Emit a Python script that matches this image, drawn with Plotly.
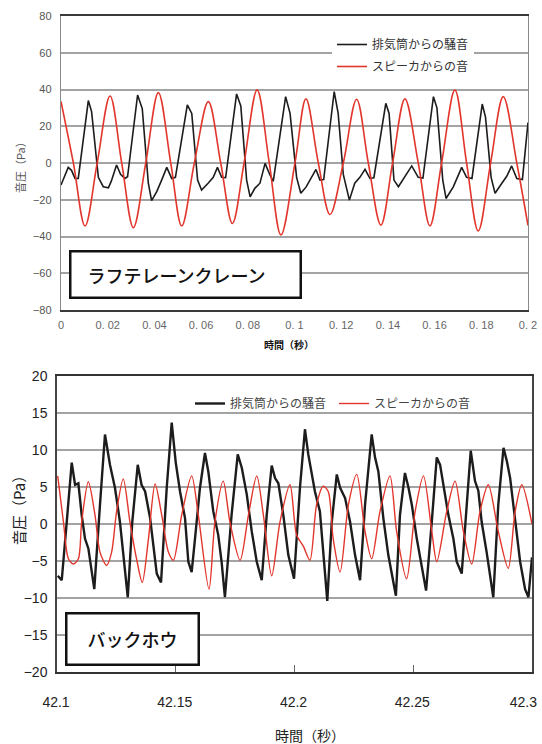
import plotly.graph_objects as go

W, H = 542, 744
JP = "Noto Sans CJK JP"

# ---------------- Top panel: ラフテレーンクレーン (time s, pressure Pa) ----------------
top_t_exhaust = [0.0000, 0.0031, 0.0045, 0.0060, 0.0074, 0.0117, 0.0131, 0.0160, 0.0181, 0.0203,
                 0.0215, 0.0238, 0.0255, 0.0274, 0.0285, 0.0328, 0.0348, 0.0374, 0.0388, 0.0410,
                 0.0431, 0.0453, 0.0474, 0.0490, 0.0541, 0.0560, 0.0585, 0.0602, 0.0630, 0.0652,
                 0.0670, 0.0688, 0.0705, 0.0752, 0.0770, 0.0795, 0.0810, 0.0830, 0.0852, 0.0874,
                 0.0895, 0.0909, 0.0962, 0.0981, 0.1009, 0.1027, 0.1050, 0.1073, 0.1092, 0.1109,
                 0.1125, 0.1170, 0.1187, 0.1209, 0.1235, 0.1258, 0.1280, 0.1302, 0.1323, 0.1340,
                 0.1391, 0.1405, 0.1426, 0.1445, 0.1473, 0.1502, 0.1530, 0.1550, 0.1595, 0.1610,
                 0.1635, 0.1649, 0.1680, 0.1716, 0.1737, 0.1760, 0.1804, 0.1818, 0.1842, 0.1859,
                 0.1888, 0.1909, 0.1930, 0.1952, 0.1976, 0.2000]
top_p_exhaust = [-12, -2.4, -4, -8.4, -8.4, 34, 28, -7.8, -12.9, -13.5,
                 -10, -1.1, -6.2, -8.4, -7.5, 37, 29.6, -11, -20.5, -15.6,
                 -9.3, -2.4, -8.4, -7.8, 31.6, 27, -9.3, -14.7, -11, -7.8,
                 -2.4, -7.8, -8, 37.6, 31, -9.3, -18.4, -13.8, -11, -0.2,
                 -6.5, -10, 36.1, 27, -7.8, -16.5, -13, -7.8, -3.5, -9.3,
                 -9, 38.9, 27, -6.2, -20.2, -11, -7.8, -3.5, -8.4, -8,
                 32.5, 27, -9.3, -12.9, -7.2, -1.6, -7.8, -8.2, 36.1, 30,
                 -9.3, -19.3, -13, -2.4, -7.8, -8.4, 32.1, 25, -7.8, -16.5,
                 -11, -7.2, -1.6, -8.4, -9, 22]

top_t_speaker = [0.0000, 0.0053, 0.0103, 0.0155, 0.0210, 0.0260, 0.0310, 0.0363, 0.0417, 0.0470,
                 0.0517, 0.0571, 0.0631, 0.0684, 0.0734, 0.0784, 0.0840, 0.0892, 0.0942, 0.1002,
                 0.1049, 0.1102, 0.1152, 0.1209, 0.1266, 0.1316, 0.1370, 0.1420, 0.1473, 0.1530,
                 0.1580, 0.1630, 0.1687, 0.1737, 0.1787, 0.1840, 0.1894, 0.1952, 0.2000]
top_p_speaker = [33.5, 0, -34.3, 0, 36.5, 0, -35.2, 0, 38.3, 0,
                 -34.3, 0, 33.4, 0, -32.9, 0, 39.8, 0, -39.2, 0,
                 34.9, 0, -28, 0, 34.7, 0, -33.8, 0, 34.9, 0,
                 -34.2, 0, 39.8, 0, -37, 0, 36.1, 0, -34]

top_xtick_vals = [0, 0.02, 0.04, 0.06, 0.08, 0.1, 0.12, 0.14, 0.16, 0.18, 0.2]
top_xtick_text = ["0", "0. 02", "0. 04", "0. 06", "0. 08", "0. 1", "0. 12", "0. 14", "0. 16", "0. 18", "0. 2"]
top_ytick_vals = [-80, -60, -40, -20, 0, 20, 40, 60, 80]
top_ytick_text = ["\u221280", "\u221260", "\u221240", "\u221220", "0", "20", "40", "60", "80"]

# ---------------- Bottom panel: バックホウ ----------------
bot_t0 = 42.1
bot_dt_exhaust = [0.0003, 0.0020, 0.0041, 0.0062, 0.0076, 0.0090, 0.0104, 0.0118, 0.0132, 0.0157,
                  0.0181, 0.0202, 0.0223, 0.0244, 0.0265, 0.0279, 0.0298, 0.0317, 0.0340, 0.0356,
                  0.0371, 0.0392, 0.0406, 0.0420, 0.0438, 0.0462, 0.0483, 0.0500, 0.0518, 0.0539,
                  0.0553, 0.0567, 0.0581, 0.0602, 0.0623, 0.0637, 0.0658, 0.0679, 0.0693, 0.0707,
                  0.0735, 0.0761, 0.0778, 0.0799, 0.0820, 0.0841, 0.0862, 0.0883, 0.0904, 0.0918,
                  0.0932, 0.0953, 0.0974, 0.0998, 0.1023, 0.1044, 0.1058, 0.1072, 0.1086, 0.1107,
                  0.1121, 0.1138, 0.1157, 0.1178, 0.1192, 0.1213, 0.1234, 0.1255, 0.1276, 0.1297,
                  0.1325, 0.1339, 0.1353, 0.1374, 0.1395, 0.1427, 0.1444, 0.1465, 0.1480, 0.1494,
                  0.1515, 0.1536, 0.1554, 0.1578, 0.1599, 0.1613, 0.1627, 0.1648, 0.1669, 0.1683,
                  0.1704, 0.1725, 0.1742, 0.1760, 0.1774, 0.1788, 0.1809, 0.1837, 0.1858, 0.1880,
                  0.1894, 0.1908, 0.1929, 0.1950, 0.1971, 0.1985, 0.2000]
bot_p_exhaust = [-7, -7.6, 0.3, 8.3, 5.3, 5.5, 1.2, -2, -3.3, -8.8,
                 2.6, 12.1, 8, 4.9, 0.3, -4.2, -9.9, 0.3, 8, 5.3,
                 4.4, 0.8, -2.9, -6.7, -7.9, 4.9, 13.7, 8.3, 4.4, 0.8,
                 -5.1, -6.5, -2, 4.9, 9.6, 7.1, 1.7, -1.5, -5.1, -9.9,
                 1.2, 9.4, 7.6, 4, -1, -5.1, -7.6, 1.2, 7.9, 6.2,
                 5.5, 1.2, -4.2, -7.4, 4.9, 12.8, 9.4, 7, 4.4, 1.7,
                 -3.3, -10.4, 0.3, 6.7, 4.9, 3.5, 0.3, -4.2, -7.6, 2.6,
                 12.1, 9, 7.1, 0.8, -4.2, -9.7, 1.2, 6.9, 4.9, 2.6,
                 -2, -5.6, -9, 0.3, 9, 8, 5.3, 1.2, -2, -5.1,
                 -6.7, 2.6, 9.9, 5.8, 4.5, 0.3, -3.8, -9.9, 2.6, 10.3,
                 8.5, 6.2, 0.8, -5.1, -8.8, -9.9, -4.5]

bot_dt_speaker = [0.0003, 0.0027, 0.0048, 0.0069, 0.0090, 0.0104, 0.0132, 0.0160, 0.0181, 0.0209,
                  0.0230, 0.0251, 0.0279, 0.0307, 0.0335, 0.0359, 0.0385, 0.0413, 0.0441, 0.0469,
                  0.0490, 0.0525, 0.0567, 0.0595, 0.0640, 0.0665, 0.0700, 0.0728, 0.0771, 0.0806,
                  0.0841, 0.0869, 0.0904, 0.0939, 0.0981, 0.1009, 0.1037, 0.1065, 0.1093, 0.1121,
                  0.1142, 0.1163, 0.1192, 0.1227, 0.1262, 0.1297, 0.1325, 0.1360, 0.1402, 0.1430,
                  0.1472, 0.1508, 0.1543, 0.1578, 0.1599, 0.1641, 0.1676, 0.1711, 0.1746, 0.1781,
                  0.1816, 0.1858, 0.1900, 0.1929, 0.1957, 0.2000]
bot_p_speaker = [6.5, 0.3, -4.7, -5.4, -4.7, 0.3, 5.7, 1.2, -3.8, -5.6,
                 -3.8, 1.7, 6.1, 0.3, -4.7, -7.9, -2, 5.4, 1.2, -3.8,
                 -4.9, 1.2, 6.5, 1.2, -8.8, 0.3, 5.8, 0.3, -4.9, 1.2,
                 6.5, 1.2, -7, 0.3, 5.3, -1.5, -3, -4.9, 2.6, 5.1,
                 4.4, -2, -6.5, 2.6, 6.7, -1, -4.7, 1.7, 6.5, -1,
                 -7.4, 1.7, 6.5, -1, -5.1, 1.7, 5.8, -1, -5.4, 1.7,
                 5.3, -1, -6, 1.7, 5.3, 0]

bot_xtick_vals = [42.1, 42.15, 42.2, 42.25]
bot_xtick_text = ["42.1", "42.15", "42.2", "42.25"]
bot_xtick_end_val = [42.3]
bot_xtick_end_text = ["42.3"]
bot_ytick_vals = [-20, -15, -10, -5, 0, 5, 10, 15, 20]

series_names = ["排気筒からの騒音", "スピーカからの音"]
panel_labels = ["ラフテレーンクレーン\u3000", "バックホウ"]
axis_y_title = "音圧（Pa）"
axis_x_title = "時間（秒）"

BLACK = "#1c1c1c"
RED = "#e2362d"
GRID = "#a3a3a3"


def fx(px):
    return px / W


def fy(py):
    return 1 - py / H


fig = go.Figure()

fig.add_trace(go.Scatter(x=top_t_exhaust, y=top_p_exhaust, mode="lines", name=series_names[0],
                         line=dict(color=BLACK, width=1.6), xaxis="x", yaxis="y",
                         legend="legend", legendgroup="a"))
fig.add_trace(go.Scatter(x=top_t_speaker, y=top_p_speaker, mode="lines", name=series_names[1],
                         line=dict(color=RED, width=1.6, shape="spline", smoothing=1.0),
                         xaxis="x", yaxis="y", legend="legend", legendgroup="b"))

bot_x_exhaust = [bot_t0 + d for d in bot_dt_exhaust]
bot_x_speaker = [bot_t0 + d for d in bot_dt_speaker]
fig.add_trace(go.Scatter(x=bot_x_exhaust, y=bot_p_exhaust, mode="lines", name=series_names[0],
                         line=dict(color=BLACK, width=2.4), xaxis="x2", yaxis="y2",
                         legend="legend2"))
fig.add_trace(go.Scatter(x=bot_x_speaker, y=bot_p_speaker, mode="lines", name=series_names[1],
                         line=dict(color=RED, width=1.4, shape="spline", smoothing=0.8),
                         xaxis="x3", yaxis="y2", legend="legend2"))

bot_domain = [fx(57), fx(532)]
bot_range = [42.1, 42.3]
bot_tickfont = dict(family="Liberation Sans", size=14, color="#222")

fig.update_layout(
    width=W, height=H,
    margin=dict(l=0, r=0, t=0, b=0, pad=0, autoexpand=False),
    paper_bgcolor="white", plot_bgcolor="white",
    font=dict(family=JP, color="#333"),
    xaxis=dict(domain=[fx(61), fx(528)], range=[0, 0.2], tickvals=top_xtick_vals,
               ticktext=top_xtick_text, showgrid=False, zeroline=False,
               showline=True, linecolor="#3a3a3a", linewidth=1.6, mirror=True,
               ticks="", ticklabelstandoff=4, automargin=False, ticklabeloverflow="allow",
               tickfont=dict(family="Liberation Sans", size=11, color="#666"), anchor="y"),
    yaxis=dict(domain=[fy(310), fy(16)], range=[-80, 80], tickvals=top_ytick_vals,
               ticktext=top_ytick_text, showgrid=True, gridcolor=GRID, gridwidth=1.5,
               zeroline=False, showline=True, linecolor="#8a8a8a", linewidth=1.4, mirror=True,
               ticks="", ticklabelstandoff=6, automargin=False,
               tickfont=dict(family="Liberation Sans", size=11, color="#555"), anchor="x"),
    xaxis2=dict(domain=bot_domain, range=bot_range, tickvals=bot_xtick_vals,
                ticktext=bot_xtick_text, showgrid=False, zeroline=False,
                showline=True, linecolor="#333", linewidth=1.6, mirror=True,
                ticks="inside", ticklen=7, tickcolor="#666", tickwidth=1.2,
                ticklabelstandoff=16, ticklabelshift=-1, automargin=False,
                ticklabeloverflow="allow", tickfont=bot_tickfont, anchor="y2"),
    xaxis3=dict(domain=bot_domain, range=bot_range, overlaying="x2", side="bottom",
                anchor="y2", tickvals=bot_xtick_end_val, ticktext=bot_xtick_end_text,
                showgrid=False, zeroline=False, showline=False, ticks="",
                ticklabelposition="outside left", ticklabelshift=5,
                ticklabelstandoff=20, automargin=False, ticklabeloverflow="allow",
                tickfont=bot_tickfont),
    yaxis2=dict(domain=[fy(672), fy(376)], range=[-20, 20], tickvals=bot_ytick_vals,
                showgrid=True, gridcolor=GRID, gridwidth=1.5, zeroline=False,
                showline=True, linecolor="#444", linewidth=1.5, mirror=True,
                ticks="", ticklabelstandoff=5, automargin=False,
                tickfont=bot_tickfont, anchor="x2"),
    legend=dict(x=fx(332), y=fy(30), xanchor="left", yanchor="top", bgcolor="white",
                borderwidth=0, font=dict(family=JP, size=12, color="#333"),
                traceorder="grouped", tracegroupgap=3),
    legend2=dict(x=fx(190), y=fy(389), xanchor="left", yanchor="top", orientation="h",
                 bgcolor="rgba(0,0,0,0)", entrywidth=99, entrywidthmode="pixels",
                 font=dict(family=JP, size=12, color="#444")),
    showlegend=True,
)

annotations = [
    dict(text=axis_y_title, x=fx(20), y=fy(165), textangle=-90, showarrow=False,
         xref="paper", yref="paper", xanchor="center", yanchor="middle",
         font=dict(family=JP, size=11, color="#555")),
    dict(text="<b>" + axis_x_title + "</b>", x=fx(289), y=fy(344), showarrow=False,
         xref="paper", yref="paper", xanchor="center", yanchor="middle",
         font=dict(family=JP, size=10, color="#111")),
    dict(text=panel_labels[0], x=fx(185.5), y=fy(274.5), showarrow=False,
         xref="paper", yref="paper", xanchor="center", yanchor="middle",
         width=228, height=44, borderpad=0, borderwidth=2.5, bordercolor="#111",
         bgcolor="white", font=dict(family=JP, size=18, color="#111", weight=500)),
    dict(text=axis_y_title, x=fx(19), y=fy(507), textangle=-90, showarrow=False,
         xref="paper", yref="paper", xanchor="center", yanchor="middle",
         font=dict(family=JP, size=15, color="#222")),
    dict(text=axis_x_title, x=fx(310), y=fy(735), showarrow=False,
         xref="paper", yref="paper", xanchor="center", yanchor="middle",
         font=dict(family=JP, size=14, color="#222")),
    dict(text=panel_labels[1], x=fx(132.5), y=fy(639), showarrow=False,
         xref="paper", yref="paper", xanchor="center", yanchor="middle",
         width=130, height=49, borderpad=0, borderwidth=2.5, bordercolor="#111",
         bgcolor="white", font=dict(family=JP, size=18, color="#111", weight=500)),
]
fig.update_layout(annotations=annotations)

fig.write_html("out.html", config={"displayModeBar": False},
               post_script="document.body.style.margin='0';")
